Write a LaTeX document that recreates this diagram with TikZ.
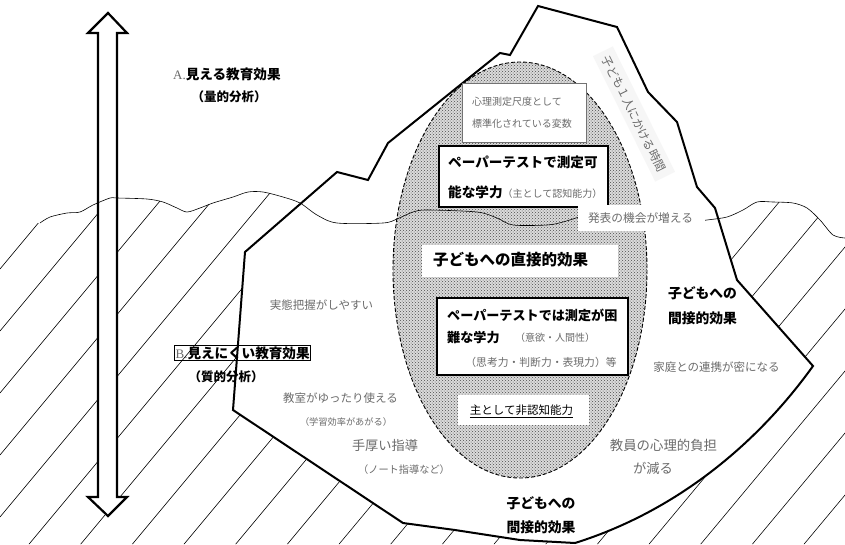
\documentclass[tikz,border=0pt]{standalone}
\usepackage{fontspec}
\setmainfont{Liberation Serif}
\newfontfamily\jp{Noto Sans CJK JP}
\usetikzlibrary{patterns}
\definecolor{txtgray}{gray}{0.42}
\tikzset{
  bergfill/.style={fill=white, draw=none},
  bergline/.style={line width=2pt, line join=miter},
  hatchline/.style={line width=0.6pt},
  waveline/.style={line width=0.6pt},
  bigarrow/.style={line width=2.2pt, fill=white, line join=miter},
  ovalfill/.style={fill=gray!28, draw=none},
  ovalshape/.style={dash pattern=on 4pt off 2pt, line width=0.9pt, pattern=crosshatch dots, pattern color=black!70},
  whitebox/.style={fill=white, draw=none, inner sep=0pt},
  blackbox/.style={fill=white, draw=black, line width=1.3pt, inner sep=0pt},
  graybox/.style={fill=white, draw=black!55, line width=0.9pt, inner sep=0pt},
  gtxt/.style={text=txtgray, inner sep=0pt},
  btxt/.style={inner sep=0pt},
}
\newcommand{\jfs}[1]{\jp\fontsize{#1}{#1}\selectfont}
\newcommand{\jbs}[1]{\jp\bfseries\fontsize{#1}{#1}\selectfont}
\begin{document}
\begin{tikzpicture}[x=1pt,y=-1pt]
\useasboundingbox (0,0) rectangle (845,544);
% hatching below the waterline
\begin{scope}
\clip (0,223) -- plot[smooth] coordinates {(40,223) (50,217) (67,213) (80,212) (93,205) (110,198) (117,198) (147,199) (163,202) (177,208) (187,212) (200,208) (213,203) (233,197) (248,192) (263,192) (283,197) (300,203) (317,215) (337,223) (383,223) (397,219) (413,212) (427,210) (477,212) (497,218) (513,225) (547,225) (563,222) (585,215)}
 -- plot[smooth] coordinates {(700,221) (707,220) (727,217) (743,210) (757,202) (773,202) (793,203) (807,208) (820,220) (833,235) (845,238)}
 -- (845,544) -- (0,544) -- cycle;
\foreach \c in {145,207,...,1700} \draw[hatchline] (0,\c) -- ({\c/1.2},0);
\end{scope}
% double arrow
\draw[bigarrow] (108,13) -- (127,33) -- (117,33) -- (117,497) -- (127,497) -- (108,516) -- (88,497) -- (98,497) -- (98,33) -- (88,33) -- cycle;
% iceberg fill
\path[bergfill] (233,410) -- (245,252) -- (337,172) -- (368,180) -- (388,143) -- (500,53) -- (510,55) -- (538,6) -- (617,27) -- (648,92) -- (677,122) -- (697,187) -- (715,208) -- (737,280) -- (813,366) .. controls (760,440) and (680,510) .. (575,543) -- (520,540) -- (455,530) -- (403,523) -- cycle;
% direct-effect oval
\path[ovalfill] (520,270) ellipse [x radius=127, y radius=208];
\draw[ovalshape] (520,270) ellipse [x radius=127, y radius=208];
% waterline
\draw[waveline] plot[smooth] coordinates {(40,223) (50,217) (67,213) (80,212) (93,205) (110,198) (117,198) (147,199) (163,202) (177,208) (187,212) (200,208) (213,203) (233,197) (248,192) (263,192) (283,197) (300,203) (317,215) (337,223) (383,223) (397,219) (413,212) (427,210) (477,212) (497,218) (513,225) (547,225) (563,222) (585,215)};
\draw[waveline] plot[smooth] coordinates {(700,221) (707,220) (727,217) (743,210) (757,202) (773,202) (793,203) (807,208) (820,220) (833,235) (845,238)};
% iceberg outline
\draw[bergline] (233,410) -- (245,252) -- (337,172) -- (368,180) -- (388,143) -- (500,53) -- (510,55) -- (538,6) -- (617,27) -- (648,92) -- (677,122) -- (697,187) -- (715,208) -- (737,280) -- (813,366) .. controls (760,440) and (680,510) .. (575,543) -- (520,540) -- (455,530) -- (403,523) -- cycle;
% rotated band
\node[fill=gray!7, rotate=-63.6, minimum width=140pt, minimum height=22pt, inner sep=0pt, text=txtgray, font=\jfs{11.6}] (time) at (634,114) {子ども１人にかける時間};
% boxes inside oval
\node[graybox, minimum width=124pt, minimum height=59pt] (psybox) at (524,112.5) {};
\node[gtxt, anchor=west, font=\jfs{10}] (psy1) at (472,102) {心理測定尺度として};
\node[gtxt, anchor=west, font=\jfs{10}] (psy2) at (472,124) {標準化されている変数};
\node[blackbox, minimum width=169pt, minimum height=61pt] (ppbox) at (523.5,176.5) {};
\node[btxt, anchor=west, font=\jbs{13.6}] (pp1) at (448,162) {ペーパーテストで測定可};
\node[btxt, anchor=west, font=\jbs{13.6}] (pp2) at (448,192) {能な学力{\color{txtgray}\mdseries\fontsize{10}{10}\selectfont（主として認知能力）}};
\node[whitebox, minimum width=127pt, minimum height=26pt] (pubbox) at (641.5,218) {};
\node[gtxt, font=\jfs{11.7}] (pub) at (640.5,218) {発表の機会が増える};
\node[whitebox, minimum width=196pt, minimum height=32pt] (dirbox) at (520,261) {};
\node[btxt, font=\jbs{15.5}] (dir) at (510.5,260) {子どもへの直接的効果};
\node[blackbox, minimum width=191pt, minimum height=77pt] (hardbox) at (532.5,336.5) {};
\node[btxt, anchor=west, font=\jbs{13.1}] (hard1) at (447,315) {ペーパーテストでは測定が困};
\node[btxt, anchor=west, font=\jbs{13.1}] (hard2) at (447,338) {難な学力};
\node[gtxt, anchor=west, font=\jfs{10}] (hard3) at (515,338) {（意欲・人間性）};
\node[gtxt, font=\jfs{10.8}] (hard4) at (541,362) {（思考力・判断力・表現力）等};
\node[whitebox, minimum width=131pt, minimum height=30pt] (ncbox) at (523.5,410) {};
\node[btxt, font=\jfs{11.5}] (nc) at (521.5,411) {\underline{主として非認知能力}};
% indirect effects
\node[btxt, font=\jbs{13.8}] (ind1) at (702.5,293) {子どもへの};
\node[btxt, font=\jbs{13.8}] (ind2) at (702.5,318) {間接的効果};
\node[btxt, font=\jbs{13.8}] (ind3) at (541,503) {子どもへの};
\node[btxt, font=\jbs{13.8}] (ind4) at (541,527) {間接的効果};
% gray remarks
\node[gtxt, font=\jfs{11.5}] (g1) at (321.5,305) {実態把握がしやすい};
\node[gtxt, font=\jfs{11.5}] (g2) at (340.5,398) {教室がゆったり使える};
\node[gtxt, font=\jfs{9.2}] (g3) at (346,422) {（学習効率があがる）};
\node[gtxt, font=\jfs{13.2}] (g4) at (385,445) {手厚い指導};
\node[gtxt, font=\jfs{10.2}] (g5) at (404,470) {（ノート指導など）};
\node[gtxt, font=\jfs{11.5}] (g6) at (716.5,367) {家庭との連携が密になる};
\node[gtxt, font=\jfs{13.4}] (g7) at (663.5,445) {教員の心理的負担};
\node[gtxt, font=\jfs{13.3}] (g8) at (653,468) {が減る};
% A / B labels
\node[btxt, anchor=west] (labA) at (173,74) {{\color{txtgray}\fontsize{13}{13}\selectfont A.}{\jbs{13.6}見える教育効果}};
\node[btxt, font=\jbs{12.5}] (labA2) at (229,97) {（量的分析）};
\node[draw, line width=0.8pt, inner sep=1.2pt, anchor=west] (labB) at (174,353) {{\color{txtgray}\fontsize{13}{13}\selectfont B.}{\jbs{13.6}見えにくい教育効果}};
\node[btxt, font=\jbs{12.5}] (labB2) at (226,377) {（質的分析）};
\end{tikzpicture}
\end{document}
